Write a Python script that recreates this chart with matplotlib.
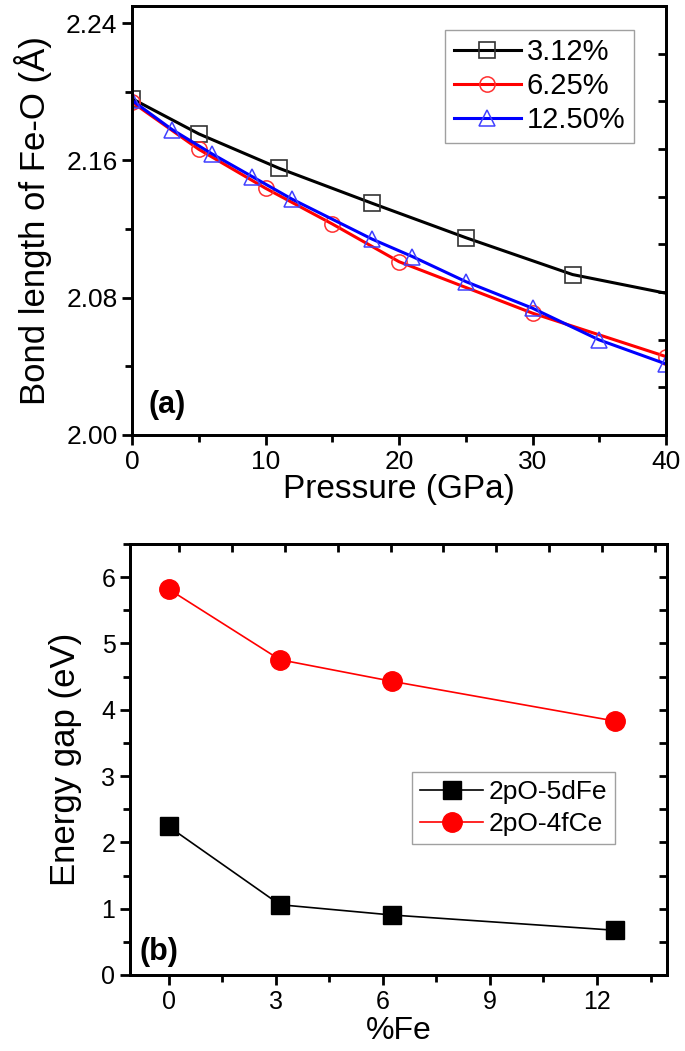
import numpy as np
import matplotlib
matplotlib.use("Agg")
import matplotlib.pyplot as plt
from matplotlib.ticker import MultipleLocator, NullFormatter

plt.rcParams['font.family'] = ['Liberation Sans', 'DejaVu Sans']

# (a) Fe-O bond length vs pressure
p_312 = [0, 5, 11, 18, 25, 33, 40]
b_312 = [2.196, 2.1755, 2.1555, 2.135, 2.115, 2.0935, 2.0826]
p_625 = [0, 5, 10, 15, 20, 30, 40]
b_625 = [2.194, 2.1665, 2.1438, 2.123, 2.101, 2.071, 2.0457]
p_1250 = [0, 3, 6, 9, 12, 18, 21, 25, 30, 35, 40]
b_1250 = [2.195, 2.178, 2.1638, 2.1506, 2.1374, 2.1141, 2.104, 2.0894, 2.0739, 2.0554, 2.0414]
labels_a = ["3.12%", "6.25%", "12.50%"]

# (b) energy gap vs %Fe
fe_pct = [0, 3.12, 6.25, 12.5]
gap_5dfe = [2.24, 1.06, 0.905, 0.675]
gap_4fce = [5.82, 4.755, 4.43, 3.83]
labels_b = ["2pO-5dFe", "2pO-4fCe"]

W, H = 685, 1051
fig = plt.figure(figsize=(W / 100, H / 100), dpi=100)

def box(l, r, t, b):
    return [l / W, 1 - b / H, (r - l) / W, (b - t) / H]

# ---------- panel (a) ----------
ax1 = fig.add_axes(box(132, 666, 6, 435))
ax1.plot(p_312, b_312, '-', color='black', lw=2.2, marker='s', ms=11,
         mfc='none', mec='#333333', mew=1.2, markevery=list(range(6)),
         label=labels_a[0])
ax1.plot(p_625, b_625, '-', color='#ff0000', lw=2.2, marker='o', ms=11,
         mfc='none', mec='#ff3030', mew=1.1, label=labels_a[1])
ax1.plot(p_1250, b_1250, '-', color='#0000ff', lw=2.2, marker='^', ms=12,
         mfc='none', mec='#4040ff', mew=1.1, label=labels_a[2])
ax1.set_xlim(0, 40)
ax1.set_ylim(2.0, 2.25)
ax1.set_yticks([2.00, 2.08, 2.16, 2.24])
ax1.yaxis.set_minor_locator(MultipleLocator(0.04))
ax1.xaxis.set_major_locator(MultipleLocator(10))
ax1.xaxis.set_minor_locator(MultipleLocator(5))
ax1.tick_params(which='both', direction='out', width=2, labelsize=19,
                top=False, right=False)
ax1.tick_params(which='major', length=7)
ax1.tick_params(which='minor', length=5)
# right-hand inner ticks (unlabelled)
ax1r = ax1.twinx()
ax1r.set_ylim(2.0, 2.25)
ax1r.set_yticks(np.linspace(2.0, 2.25, 10)[1:-1])
ax1r.yaxis.set_major_formatter(NullFormatter())
ax1r.tick_params(direction='in', width=2, length=6)
for a in (ax1, ax1r):
    for s in a.spines.values():
        s.set_linewidth(2)
ax1.set_xlabel("Pressure (GPa)", fontsize=24, labelpad=0)
ax1.set_ylabel("Bond length of Fe-O (Å)", fontsize=25, labelpad=10)
ax1.text(1.2, 2.0128, "(a)", fontsize=22, fontweight='bold')
leg1 = ax1.legend(loc='upper right', bbox_to_anchor=(0.94, 0.945), fontsize=21,
                  numpoints=1, handlelength=2.3, handletextpad=0.2,
                  borderpad=0.3, labelspacing=0.2, fancybox=False,
                  borderaxespad=0)
leg1.get_frame().set_edgecolor('#888888')
leg1.get_frame().set_linewidth(1.0)

# ---------- panel (b) ----------
ax2 = fig.add_axes(box(130, 667, 544, 975))
ax2.plot(fe_pct, gap_5dfe, '-', color='black', lw=1.2, marker='s', ms=13,
         mfc='black', mec='black', label=labels_b[0])
ax2.plot(fe_pct, gap_4fce, '-', color='#ff0000', lw=1.2, marker='o', ms=14,
         mfc='#ff0000', mec='#ff0000', label=labels_b[1])
ax2.set_xlim(-1.08, 13.96)
ax2.set_ylim(0, 6.5)
ax2.xaxis.set_major_locator(MultipleLocator(3))
ax2.xaxis.set_minor_locator(MultipleLocator(1.5))
ax2.yaxis.set_major_locator(MultipleLocator(1))
ax2.yaxis.set_minor_locator(MultipleLocator(0.5))
ax2.tick_params(which='both', direction='out', width=2, labelsize=18,
                top=False, right=False)
ax2.tick_params(which='major', length=7)
ax2.tick_params(which='minor', length=5)
ax2r = ax2.twinx()
ax2r.set_ylim(0, 6.5)
ax2r.set_yticks(np.arange(0.5, 6.5, 0.5))
ax2r.yaxis.set_major_formatter(NullFormatter())
ax2r.tick_params(direction='in', width=2, length=6)
ax2t = ax2.twiny()
ax2t.set_xlim(-1.08, 13.96)
ax2t.set_xticks(np.arange(0.3, 13.9, 1.48))
ax2t.xaxis.set_major_formatter(NullFormatter())
ax2t.tick_params(direction='in', width=2, length=6)
for a in (ax2, ax2r, ax2t):
    for s in a.spines.values():
        s.set_linewidth(2)
ax2.set_xlabel("%Fe", fontsize=23, labelpad=2)
ax2.set_ylabel("Energy gap (eV)", fontsize=25, labelpad=14)
ax2.text(-0.8, 0.22, "(b)", fontsize=22, fontweight='bold')
leg2 = ax2.legend(loc='upper right', bbox_to_anchor=(0.903, 0.471), fontsize=19,
                  numpoints=1, handlelength=2.4, handletextpad=0.2,
                  borderpad=0.3, labelspacing=0.3, fancybox=False,
                  borderaxespad=0)
leg2.get_frame().set_edgecolor('#888888')
leg2.get_frame().set_linewidth(1.0)

fig.savefig("out.png", dpi=100)
